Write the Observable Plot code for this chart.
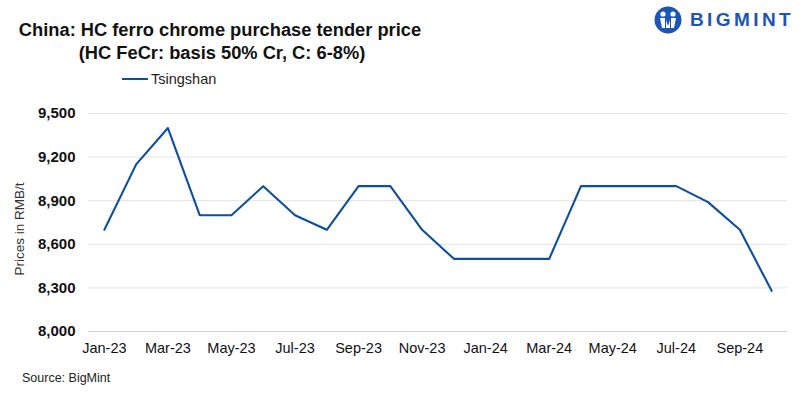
<!DOCTYPE html>
<html>
<head>
<meta charset="utf-8">
<script src="https://cdn.jsdelivr.net/npm/d3@7"></script>
<script src="https://cdn.jsdelivr.net/npm/@observablehq/plot@0.6"></script>
<style>
  html, body { margin: 0; padding: 0; background: #fff; }
  body { width: 800px; height: 398px; position: relative; overflow: hidden; font-family: "Liberation Sans", Arial, sans-serif; }
  #chart { position: absolute; left: 0; top: 0; }
  .title { position: absolute; left: 0; width: 440px; text-align: center; font-weight: bold; font-size: 18.3px; color: #111; line-height: 22px; }
  .legend { position: absolute; left: 122px; top: 71px; font-size: 14.5px; color: #222; display: flex; align-items: center; }
  .legend .sw { width: 26px; height: 2.5px; background: #0d4f9e; margin-right: 3px; }
  .ylab { position: absolute; left: 19px; top: 229px; transform: translate(-50%, -50%) rotate(-90deg); font-size: 13.5px; color: #333; white-space: nowrap; }
  .source { position: absolute; left: 22px; top: 371px; font-size: 12.5px; color: #222; }
  .logo { position: absolute; left: 654px; top: 6px; display: flex; align-items: center; }
  .logo span { font-weight: bold; font-size: 19px; letter-spacing: 3.4px; color: #1d55b4; margin-left: 8px; }
</style>
</head>
<body>
<div id="chart"></div>
<div class="title" style="top:19px; left:0;">China: HC ferro chrome purchase tender price</div>
<div class="title" style="top:42px; left:2px;">(HC FeCr: basis 50% Cr, C: 6-8%)</div>
<div class="legend"><div class="sw"></div>Tsingshan</div>
<div class="ylab">Prices in RMB/t</div>
<div class="source">Source: BigMint</div>
<div class="logo">
  <svg width="28" height="28" viewBox="0 0 28 28">
    <circle cx="14" cy="14" r="13.5" fill="#1d55b4"/>
    <circle cx="9" cy="8" r="2.6" fill="#fff"/>
    <circle cx="19" cy="8" r="2.6" fill="#fff"/>
    <path d="M6 12 h5 v10 h-3 z M17 12 h5 l-2 10 h-3 z M12 14 l2 6 l2 -6 v8 h-4 z" fill="#fff"/>
  </svg>
  <span>BIGMINT</span>
</div>
<script>
const months = ["Jan-23","Feb-23","Mar-23","Apr-23","May-23","Jun-23","Jul-23","Aug-23","Sep-23","Oct-23","Nov-23","Dec-23",
                "Jan-24","Feb-24","Mar-24","Apr-24","May-24","Jun-24","Jul-24","Aug-24","Sep-24","Oct-24"];
const tsingshan = [8700, 9150, 9400, 8800, 8800, 9000, 8800, 8700, 9000, 9000, 8700, 8500,
                   8500, 8500, 8500, 9000, 9000, 9000, 9000, 8890, 8700, 8280];
const xTicks = ["Jan-23","Mar-23","May-23","Jul-23","Sep-23","Nov-23","Jan-24","Mar-24","May-24","Jul-24","Sep-24"];
const yTicks = [8000, 8300, 8600, 8900, 9200, 9500];

const data = months.map((m, i) => ({month: m, value: tsingshan[i]}));

const chart = Plot.plot({
  width: 800,
  height: 398,
  marginTop: 113,
  marginBottom: 67,
  marginLeft: 88,
  marginRight: 13,
  style: {fontFamily: "Liberation Sans, Arial, sans-serif", background: "#fff"},
  x: {type: "point", domain: months, padding: 0.5, round: false},
  y: {domain: [8000, 9500]},
  marks: [
    Plot.gridY(yTicks.slice(1), {stroke: "#e3e3e3", strokeOpacity: 1, strokeWidth: 1}),
    Plot.ruleY([8000], {stroke: "#d0d0d0", strokeWidth: 1.2}),
    Plot.axisY({ticks: yTicks, tickSize: 0, tickPadding: 13, tickFormat: d3.format(","), label: null,
                fontSize: 15, fontWeight: "bold", fill: "#111"}),
    Plot.axisX({ticks: xTicks, tickSize: 0, tickPadding: 11, label: null, fontSize: 14.5, fill: "#111"}),
    Plot.line(data, {x: "month", y: "value", stroke: "#0d4f9e", strokeWidth: 2.1})
  ]
});
document.getElementById("chart").appendChild(chart);
</script>
</body>
</html>
